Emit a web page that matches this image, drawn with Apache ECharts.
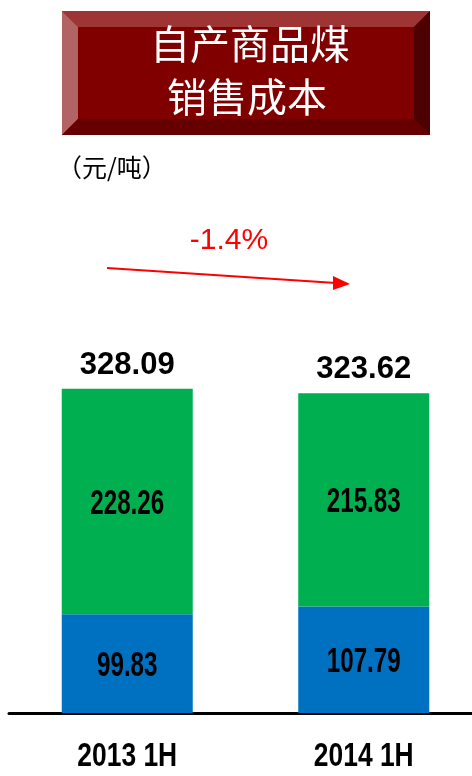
<!DOCTYPE html>
<html>
<head>
<meta charset="utf-8">
<script src="https://cdn.jsdelivr.net/npm/echarts@6/dist/echarts.min.js"></script>
<style>
html,body{margin:0;padding:0;background:#fff;}
#chart{width:472px;height:776px;}
</style>
</head>
<body>
<div id="chart"></div>
<script>
const categories = ['2013 1H', '2014 1H'];
const blueValues = [99.83, 107.79];
const greenValues = [228.26, 215.83];
const totalValues = [328.09, 323.62];
const titleLines = ['自产商品煤', '销售成本'];
const unitLabel = '（元/吨）';
const changeLabel = '-1.4%';

const chart = echarts.init(document.getElementById('chart'), null, {renderer: 'canvas'});

const sansBold = 'bold 35px "Liberation Sans", Arial, sans-serif';
const bx0 = 62, by0 = 11, bx1 = 430, by1 = 135, bv = 16;

const decor = [
  {type: 'rect', shape: {x: bx0, y: by0, width: bx1 - bx0, height: by1 - by0}, style: {fill: '#800000'}},
  {type: 'polygon', shape: {points: [[bx0, by0], [bx1, by0], [bx1 - bv, by0 + bv], [bx0 + bv, by0 + bv]]}, style: {fill: '#9e3434'}},
  {type: 'polygon', shape: {points: [[bx0, by0], [bx0 + bv, by0 + bv], [bx0 + bv, by1 - bv], [bx0, by1]]}, style: {fill: '#b26464'}},
  {type: 'polygon', shape: {points: [[bx1, by0], [bx1, by1], [bx1 - bv, by1 - bv], [bx1 - bv, by0 + bv]]}, style: {fill: '#4d0000'}},
  {type: 'polygon', shape: {points: [[bx0, by1], [bx0 + bv, by1 - bv], [bx1 - bv, by1 - bv], [bx1, by1]]}, style: {fill: '#660000'}},
  {type: 'text', x: 250, y: 44, style: {text: titleLines[0], fill: '#fff', font: '40px "Noto Sans CJK SC"', textAlign: 'center', textVerticalAlign: 'middle'}},
  {type: 'text', x: 247, y: 97, style: {text: titleLines[1], fill: '#fff', font: '40px "Noto Sans CJK SC"', textAlign: 'center', textVerticalAlign: 'middle'}},
  {type: 'text', x: 57, y: 167, style: {text: unitLabel, fill: '#000', font: '25px "Noto Sans CJK SC"', textAlign: 'left', textVerticalAlign: 'middle'}},
  {type: 'text', x: 229, y: 241, style: {text: changeLabel, fill: '#ff0000', font: '30px "Liberation Sans", Arial, sans-serif', textAlign: 'center', textVerticalAlign: 'middle'}},
  {type: 'line', shape: {x1: 107, y1: 268, x2: 336, y2: 283}, style: {stroke: '#ff0000', lineWidth: 2}},
  {type: 'polygon', shape: {points: [[333, 276], [350, 284], [333, 290]]}, style: {fill: '#ff0000'}}
];

const option = {
  animation: false,
  backgroundColor: '#ffffff',
  grid: {left: 9, width: 473, top: 377, bottom: 63, containLabel: false, outerBoundsMode: 'none'},
  xAxis: {
    type: 'category',
    data: categories,
    axisLine: {show: true, lineStyle: {color: '#000', width: 3}},
    axisTick: {show: false},
    axisLabel: {show: false}
  },
  yAxis: {
    type: 'value', min: 0, max: 340,
    show: false, splitLine: {show: false}
  },
  series: [
    {name: 'blue', type: 'bar', stack: 'cost', data: blueValues, barWidth: 131, itemStyle: {color: '#0070C0'}},
    {name: 'green', type: 'bar', stack: 'cost', data: greenValues, barWidth: 131, itemStyle: {color: '#00B050'}},
    {
      name: 'total', type: 'bar', stack: 'cost', data: totalValues.map(() => 0), barWidth: 131,
      itemStyle: {color: 'transparent'},
      label: {
        show: true, position: 'top', distance: 8, color: '#000',
        fontFamily: '"Liberation Sans", Arial, sans-serif', fontWeight: 'bold', fontSize: 31,
        formatter: p => totalValues[p.dataIndex].toFixed(2)
      }
    }
  ],
  graphic: decor
};
chart.setOption(option);

// Condensed labels positioned through the chart's own scales
const extra = [];
categories.forEach((cat, i) => {
  const px = chart.convertToPixel({gridIndex: 0}, [i, 0]);
  const blueMid = chart.convertToPixel({gridIndex: 0}, [i, blueValues[i] / 2]);
  const greenMid = chart.convertToPixel({gridIndex: 0}, [i, blueValues[i] + greenValues[i] / 2]);
  extra.push({type: 'text', z: 100, x: blueMid[0], y: blueMid[1] + 3, scaleX: 0.69,
    style: {x: 0, y: 0, text: blueValues[i].toFixed(2), fill: '#000', font: sansBold, textAlign: 'center', textVerticalAlign: 'middle'}});
  extra.push({type: 'text', z: 100, x: greenMid[0], y: greenMid[1] + 3, scaleX: 0.69,
    style: {x: 0, y: 0, text: greenValues[i].toFixed(2), fill: '#000', font: sansBold, textAlign: 'center', textVerticalAlign: 'middle'}});
  extra.push({type: 'text', z: 100, x: px[0], y: px[1] + 44, scaleX: 0.8,
    style: {x: 0, y: 0, text: cat, fill: '#000', font: 'bold 33px "Liberation Sans", Arial, sans-serif', textAlign: 'center', textVerticalAlign: 'middle'}});
});
chart.setOption({graphic: decor.concat(extra)});
</script>
</body>
</html>
